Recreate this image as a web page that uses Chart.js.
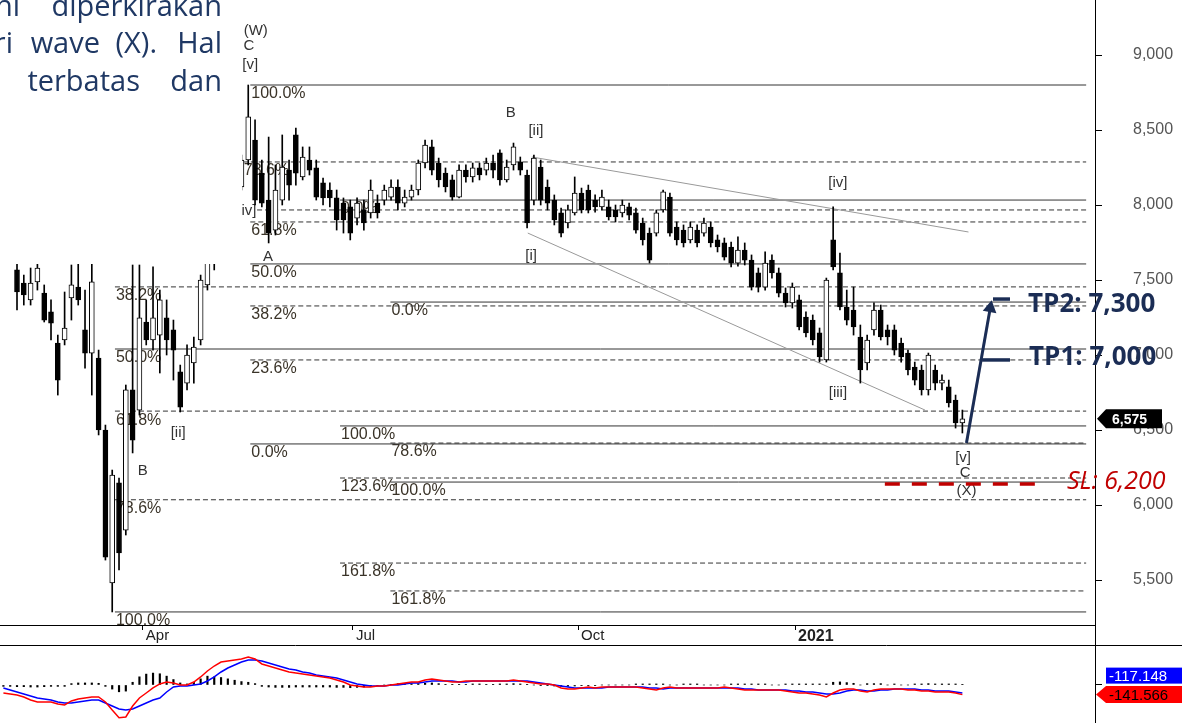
<!DOCTYPE html>
<html>
<head>
<meta charset="utf-8">
<script src="https://cdn.jsdelivr.net/npm/chart.js@4.4.1/dist/chart.umd.min.js"></script>
<style>
    body { margin: 0; background: #fff; }
    #wrap { position: relative; width: 1182px; height: 723px; overflow: hidden; background: #fff; }
    #priceChart { position: absolute; left: 0; top: 0; }
    #macdChart { position: absolute; left: 0; top: 645px; }
</style>
</head>
<body>
<div id="wrap">
    <canvas id="priceChart" width="1182" height="645"></canvas>
    <canvas id="macdChart" width="1182" height="78"></canvas>
</div>
<script>
// velas (una cada ~2 sesiones)
const opens = [7567,7480,7367,7487,7413,7287,7080,7100,7380,7453,
    7167,7013,6980,6500,5480,6147,5833,6767,6633,7220,
    7100,7133,7247,7167,6887,6813,6947,7100,7467,7620,
    7767,7933,8033,8120,8300,8433,8213,8033,7833,8033,
    8233,8467,8187,8300,8247,8147,8100,8047,8013,7987,
    7913,7967,7947,8013,8033,8053,8120,8013,8053,8100,
    8280,8387,8280,8213,8167,8053,8233,8187,8247,8233,
    8280,8347,8167,8267,8287,8200,8033,8253,8120,8033,
    7947,7880,7947,8080,8100,8033,7987,7987,7967,7947,
    7987,7947,7880,7813,7813,7967,8053,7853,7833,7767,
    7833,7813,7853,7767,7747,7720,7613,7700,7633,7547,
    7453,7633,7547,7413,7347,7367,7253,7233,7147,6967,
    7767,7547,7320,7300,7120,6947,7167,7300,7167,7167,
    7080,7013,6920,6900,6767,6900,6813,6787,6700,6547];
const highs = [7667,7533,7580,7700,7467,7367,7133,7420,7600,7620,
    7433,7620,7033,6533,6233,6180,6800,7600,7600,7367,
    7587,7433,7367,7233,6933,7067,7120,7533,7700,7867,
    8000,8100,8200,8333,8800,8567,8300,8453,8267,8467,
    8300,8513,8387,8387,8300,8180,8147,8100,8047,8033,
    8047,8033,8167,8067,8133,8167,8167,8100,8133,8300,
    8433,8433,8313,8247,8200,8267,8267,8280,8280,8313,
    8333,8367,8300,8413,8320,8233,8333,8300,8167,8067,
    7980,8000,8187,8113,8133,8067,8100,8033,8000,8033,
    8013,7980,7913,7847,7967,8100,8080,7887,7867,7887,
    7867,7913,7887,7800,7780,7753,7787,7747,7667,7580,
    7687,7667,7580,7447,7480,7400,7287,7267,7180,7513,
    7987,7680,7433,7453,7200,7133,7347,7333,7200,7200,
    7113,7033,6953,6933,7013,6933,6867,6833,6733,6633];
const lows = [7300,7333,7333,7433,7220,7100,6733,7067,7233,7333,
    6913,6733,6467,5633,5287,5567,5800,6347,6600,7067,
    7033,6880,7000,6833,6620,6767,6813,7067,7433,7567,
    7700,7867,7967,8100,8267,8000,7987,7747,7800,8000,
    8033,8133,8167,8200,8033,8000,7987,7833,7813,7767,
    7867,7833,7913,7913,8000,8033,7967,7987,8033,8067,
    8247,8200,8120,8087,8033,8047,8153,8153,8167,8200,
    8180,8133,8153,8233,8200,7847,8000,8000,7967,7867,
    7787,7847,7933,7947,7947,7953,7967,7900,7887,7920,
    7900,7813,7733,7613,7793,7953,7793,7733,7720,7747,
    7720,7793,7720,7687,7633,7587,7593,7600,7433,7420,
    7433,7513,7387,7320,7313,7167,7120,7067,6953,6953,
    7567,7300,7200,7133,6813,6900,7133,7100,7067,7000,
    6953,6867,6800,6733,6733,6767,6767,6653,6513,6480];
const closes = [7420,7400,7480,7580,7233,7213,6833,7180,7467,7367,
    7013,7487,6500,5653,6200,5680,6767,6433,7247,7100,
    7247,7367,7100,7033,6653,7000,7053,7500,7620,7767,
    7933,8033,8133,8300,8587,8033,8013,7813,8100,8253,
    8133,8213,8320,8233,8053,8047,8047,7900,7900,7813,
    8013,7880,8100,7947,8100,8120,8013,8053,8100,8280,
    8400,8233,8167,8120,8053,8233,8187,8247,8200,8280,
    8233,8167,8253,8387,8233,7880,8313,8033,8013,7900,
    7813,7967,8080,7967,7967,7987,8053,7920,7920,8000,
    7933,7833,7767,7633,7947,8087,7813,7767,7747,7853,
    7747,7880,7747,7720,7653,7613,7700,7633,7453,7453,
    7613,7547,7413,7347,7453,7187,7147,7100,6987,7500,
    7587,7320,7233,7187,6900,7100,7300,7120,7120,7033,
    6987,6900,6833,6767,7000,6813,6833,6680,6547,6575];

// eje de tiempo y de precio
const monthTicks = [18.5, 49.4, 82.5, 114.4];
const monthLabels = ['Apr', 'Jul', 'Oct', '2021'];
const priceTicks = [5500, 6000, 6500, 7000, 7500, 8000, 8500, 9000];

// MACD (empieza dos velas antes)
const macdStart = -2;
const macdRed = [-118,-132,
    -147,-176,-221,-250,-250,-250,-279,-294,-235,-206,
    -191,-176,-176,-250,-368,-480,-470,-309,-191,-118,
    -44,15,44,29,0,0,44,118,206,279,
    338,353,368,382,412,382,309,279,250,221,
    191,176,162,147,132,118,103,74,44,0,
    -15,-29,-29,-15,-15,0,15,29,44,44,
    74,88,74,59,44,44,59,59,59,59,
    59,59,59,74,59,44,29,15,15,0,
    -44,-59,-59,-44,-29,-44,-29,-29,-29,-29,
    -29,-29,-44,-59,-74,-44,-29,-44,-44,-44,
    -44,-44,-44,-44,-29,-44,-59,-74,-74,-74,
    -74,-74,-74,-88,-103,-118,-118,-132,-147,-176,
    -118,-74,-59,-59,-88,-103,-74,-59,-59,-59,
    -59,-74,-74,-88,-88,-103,-103,-103,-118,-141.566];
const macdBlue = [-44,-74,
    -103,-132,-162,-191,-206,-221,-250,-265,-265,-250,
    -235,-221,-221,-265,-309,-353,-368,-353,-309,-265,
    -221,-191,-103,-29,-15,-15,0,15,59,118,
    191,250,294,338,368,368,353,323,294,265,
    235,221,191,176,147,132,118,103,74,44,
    15,0,-15,-15,-15,0,0,15,29,29,
    44,59,59,59,59,44,44,59,59,59,
    59,59,59,59,59,59,44,29,15,0,
    -15,-29,-44,-44,-44,-44,-44,-29,-29,-29,
    -29,-29,-29,-44,-44,-59,-44,-44,-44,-44,
    -44,-44,-44,-44,-44,-44,-44,-59,-59,-74,
    -74,-74,-74,-74,-88,-88,-103,-103,-118,-132,
    -132,-118,-88,-74,-74,-88,-88,-74,-74,-59,
    -59,-59,-59,-74,-74,-88,-88,-88,-103,-117.148];
const macdHist = [-20,-20,
    -25,-25,-30,-30,-25,-20,-20,-20,20,30,
    30,30,25,-20,-60,-100,-90,40,120,160,
    175,165,130,80,30,15,40,90,130,120,
    110,90,70,50,40,20,-20,-30,-35,-35,
    -35,-30,-30,-30,-30,-30,-30,-35,-35,-40,
    -35,-30,-20,-10,0,10,20,20,20,20,
    25,30,20,10,5,10,10,15,15,10,
    10,15,15,20,15,10,0,-10,-10,-15,
    -20,-20,-15,-10,-10,-5,0,0,0,0,
    0,15,15,15,15,15,0,0,15,15,
    15,0,0,0,0,15,15,15,15,15,
    15,0,0,15,15,15,15,15,15,15,
    40,45,35,25,0,20,20,20,0,15,
    0,0,15,15,20,15,15,15,15,10];

// niveles fibonacci
const fibValues = [7454, 7040, 6626, 6035, 5287,
    8800, 8287, 7887, 7607, 7327, 6967, 6407,
    8033, 6527, 6180, 5613,
    7353, 6413, 6153, 5427,
    7967];
const fibStarts = [14.4, 14.4, 14.4, 14.4, 14.4,
    34.3, 33.2, 34.3, 34.3, 34.3, 34.3, 34.3,
    47.5, 47.5, 47.5, 47.5,
    54.9, 54.9, 54.9, 54.9,
    35.3];
const fibDashed = [1, 0, 1, 1, 0,
    0, 1, 1, 0, 1, 1, 0,
    0, 0, 1, 1,
    0, 1, 0, 1,
    1];
const fibTexts = ['38.2%', '50.0%', '61.8%', '78.6%', '100.0%',
    '100.0%', '78.6%', '61.8%', '50.0%', '38.2%', '23.6%', '0.0%',
    '0.0%', '100.0%', '123.6%', '161.8%',
    '0.0%', '78.6%', '100.0%', '161.8%',
    ''];
const fibEnd = 157.2;

// etiquetas de ondas
const waveTexts = ['(W)', 'C', '[v]', '[iv]', 'A', 'B', '[ii]', '[i]', '[iv]', '[iii]', '[v]', 'C', '(X)', '[ii]', 'B'];
const waveX = [35.1, 34.1, 34.3, 33.8, 36.9, 72.6, 76.3, 75.6, 120.7, 120.7, 139.1, 139.4, 139.6, 23.7, 18.5];
const waveY = [9160, 9060, 8933, 7960, 7654, 8614, 8494, 7660, 8147, 6747, 6314, 6214, 6094, 6480, 6227];

// canal, flecha y objetivos
const channelUpper = [[75.7, 8320], [139.9, 7820]];
const channelLower = [[75.1, 7813], [133.5, 6633]];
const arrowPath = [[139.6, 6413], [143.1, 7313]];
const tpValues = [7373, 6967];
const tpStarts = [143.5, 141.9];
const tpEnd = 146;
const tpTexts = ['TP2: 7,300', 'TP1: 7,000'];
const slValue = 6140;
const slRange = [127.6, 150.4];
const slText = 'SL: 6,200';
const lastPrice = 6575;

// texto del recuadro superior izquierdo
const noteWords = ['ini', 'diperkirakan', 'ri', 'wave', '(X).', 'Hal', 'terbatas', 'dan'];
const noteRight = [20, 222, 13, 100, 157, 222, 140, 222];
const noteBase = [16, 16, 53, 53, 53, 53, 91, 91];

const FONT = 'Liberation Sans';
const navy = '#1b2d55';

const candleWicks = closes.map((c, i) => ({ x: i, y: [lows[i], highs[i]] }));
const candleBodies = closes.map((c, i) => ({ x: i, y: [opens[i], c] }));
const bodyColors = closes.map((c, i) => c >= opens[i] ? '#ffffff' : '#000000');

function hLine(v, x0, x1) {
    return [{ x: x0, y: v }, { x: x1, y: v }];
}

// quitar el relleno automatico de las escalas
function noPad(s) {
    s.paddingTop = 0;
    s.paddingBottom = 0;
    s.paddingLeft = 0;
    s.paddingRight = 0;
}

const fibSets = fibValues.map((v, k) => ({
    type: 'line',
    data: hLine(v, fibStarts[k], fibEnd),
    borderColor: '#333',
    borderWidth: 1,
    borderDash: fibDashed[k] ? [5, 3] : [],
    pointRadius: 0
}));

const tpSets = tpValues.map((v, k) => ({
    type: 'line',
    data: hLine(v, tpStarts[k], tpEnd),
    borderColor: navy,
    borderWidth: 3.5,
    pointRadius: 0
}));

// etiquetas, recuadro y textos sobre el grafico
const priceOverlay = {
    id: 'priceOverlay',
    beforeDatasetsDraw(chart) {
        const { ctx, chartArea, scales } = chart;
        ctx.save();
        ctx.beginPath();
        ctx.rect(chartArea.left, chartArea.top, chartArea.right - chartArea.left, chartArea.bottom - chartArea.top);
        ctx.clip();
        ctx.font = '16px "' + FONT + '"';
        ctx.fillStyle = '#3a3328';
        ctx.textBaseline = 'middle';
        ctx.textAlign = 'left';
        fibTexts.forEach((t, k) => {
            if (!t) return;
            ctx.fillText(t, scales.x.getPixelForValue(fibStarts[k]) + 1, scales.y.getPixelForValue(fibValues[k]) + 9);
        });
        ctx.font = '15px "' + FONT + '"';
        ctx.fillStyle = '#333';
        ctx.textAlign = 'center';
        waveTexts.forEach((t, k) => {
            ctx.fillText(t, scales.x.getPixelForValue(waveX[k]), scales.y.getPixelForValue(waveY[k]));
        });
        ctx.restore();
    },
    afterDraw(chart) {
        const { ctx, scales } = chart;
        ctx.save();
        // recuadro blanco del texto
        ctx.fillStyle = '#ffffff';
        ctx.fillRect(0, 0, 242, 264);
        ctx.font = '29px "Open Sans"';
        ctx.fillStyle = '#1f3864';
        ctx.textAlign = 'right';
        ctx.textBaseline = 'alphabetic';
        noteWords.forEach((w, k) => ctx.fillText(w, noteRight[k], noteBase[k]));

        // linea del eje en la banda de fechas
        ctx.strokeStyle = '#000';
        ctx.lineWidth = 1;
        ctx.beginPath();
        ctx.moveTo(1095.5, 625);
        ctx.lineTo(1095.5, 645);
        ctx.stroke();

        // etiqueta del ultimo precio
        const py = scales.y.getPixelForValue(lastPrice);
        ctx.fillStyle = '#000';
        ctx.beginPath();
        ctx.moveTo(1097, py);
        ctx.lineTo(1106, py - 9.5);
        ctx.lineTo(1162, py - 9.5);
        ctx.lineTo(1162, py + 9.5);
        ctx.lineTo(1106, py + 9.5);
        ctx.closePath();
        ctx.fill();
        ctx.fillStyle = '#fff';
        ctx.font = 'bold 14px "' + FONT + '"';
        ctx.textAlign = 'left';
        ctx.textBaseline = 'middle';
        ctx.fillText(lastPrice.toLocaleString('en-US'), 1112, py + 1);

        // objetivos y stop loss
        ctx.font = 'bold 26px "Open Sans"';
        ctx.fillStyle = navy;
        ctx.fillText(tpTexts[0], 1028, 305);
        ctx.fillText(tpTexts[1], 1029, 358);
        ctx.font = 'italic 25px "Open Sans"';
        ctx.fillStyle = '#c00000';
        ctx.fillText(slText, 1067, 482);
        ctx.restore();
    }
};

const priceCtx = document.getElementById('priceChart').getContext('2d');
new Chart(priceCtx, {
    type: 'bar',
    data: {
        datasets: [
            {
                type: 'line',
                data: arrowPath.map(p => ({ x: p[0], y: p[1] })),
                borderColor: navy,
                borderWidth: 3,
                pointRadius: [0, 8],
                pointStyle: 'triangle',
                pointRotation: 10,
                pointBackgroundColor: navy,
                pointBorderWidth: 0
            },
            ...tpSets,
            {
                type: 'line',
                data: hLine(slValue, slRange[0], slRange[1]),
                borderColor: '#c00000',
                borderWidth: 3.5,
                borderDash: [15, 12],
                pointRadius: 0
            },
            {
                data: candleBodies,
                backgroundColor: bodyColors,
                borderColor: '#000',
                borderWidth: 1,
                borderSkipped: false,
                barThickness: 5,
                grouped: false
            },
            {
                data: candleWicks,
                backgroundColor: '#000',
                barThickness: 1,
                grouped: false
            },
            {
                type: 'line',
                data: channelUpper.map(p => ({ x: p[0], y: p[1] })),
                borderColor: '#999',
                borderWidth: 1,
                pointRadius: 0
            },
            {
                type: 'line',
                data: channelLower.map(p => ({ x: p[0], y: p[1] })),
                borderColor: '#999',
                borderWidth: 1,
                pointRadius: 0
            },
            ...fibSets
        ]
    },
    options: {
        responsive: false,
        animation: false,
        layout: { padding: 0, autoPadding: false },
        plugins: {
            legend: { display: false },
            tooltip: { enabled: false }
        },
        scales: {
            x: {
                type: 'linear',
                min: -2.5,
                max: 158.5,
                offset: false,
                afterBuildTicks: s => { s.ticks = monthTicks.map(v => ({ value: v })); },
                afterFit: s => { s.height = 20; noPad(s); },
                ticks: {
                    callback: (v, i) => monthLabels[i],
                    align: 'start',
                    labelOffset: 3,
                    padding: -3,
                    maxRotation: 0,
                    autoSkip: false,
                    color: '#222',
                    font: c => ({ family: FONT, size: c.index === 3 ? 16 : 15, weight: c.index === 3 ? 'bold' : 'normal' })
                },
                grid: { drawOnChartArea: false, offset: false, tickLength: 5, color: '#000' },
                border: { color: '#000' }
            },
            y: {
                position: 'right',
                min: 5200,
                max: 9366.7,
                afterBuildTicks: s => { s.ticks = priceTicks.map(v => ({ value: v })); },
                afterFit: s => { s.width = 87; noPad(s); },
                ticks: {
                    callback: v => v.toLocaleString('en-US'),
                    color: '#555',
                    padding: 31,
                    font: { family: FONT, size: 16 }
                },
                grid: { drawOnChartArea: false, tickLength: 7, color: '#000' },
                border: { color: '#000' }
            }
        }
    },
    plugins: [priceOverlay]
});

// panel MACD
const macdOverlay = {
    id: 'macdOverlay',
    afterDraw(chart) {
        const { ctx, scales } = chart;
        ctx.save();
        ctx.strokeStyle = '#000';
        ctx.lineWidth = 1;
        ctx.beginPath();
        ctx.moveTo(0, 0.5);
        ctx.lineTo(1182, 0.5);
        ctx.stroke();

        const redVal = macdRed[macdRed.length - 1];
        const blueVal = macdBlue[macdBlue.length - 1];
        const ry = scales.y.getPixelForValue(redVal);
        const by = Math.min(scales.y.getPixelForValue(blueVal), ry - 19);
        ctx.font = '15px "' + FONT + '"';
        ctx.textAlign = 'left';
        ctx.textBaseline = 'middle';

        ctx.fillStyle = '#0000ff';
        ctx.fillRect(1106, by - 8, 76, 16);
        ctx.fillStyle = '#fff';
        ctx.fillText(blueVal.toFixed(3), 1109, by + 1);

        ctx.fillStyle = '#ff0000';
        ctx.beginPath();
        ctx.moveTo(1096, ry);
        ctx.lineTo(1106, ry - 8.5);
        ctx.lineTo(1182, ry - 8.5);
        ctx.lineTo(1182, ry + 8.5);
        ctx.lineTo(1106, ry + 8.5);
        ctx.closePath();
        ctx.fill();
        ctx.fillStyle = '#000';
        ctx.fillText(redVal.toFixed(3), 1109, ry + 1);
        ctx.restore();
    }
};

const macdCtx = document.getElementById('macdChart').getContext('2d');
new Chart(macdCtx, {
    type: 'bar',
    data: {
        datasets: [
            {
                type: 'line',
                data: macdRed.map((v, i) => ({ x: macdStart + i, y: v })),
                borderColor: '#ff0000',
                borderWidth: 1.5,
                pointRadius: 0
            },
            {
                type: 'line',
                data: macdBlue.map((v, i) => ({ x: macdStart + i, y: v })),
                borderColor: '#0000ff',
                borderWidth: 1.5,
                pointRadius: 0
            },
            {
                data: macdHist.map((v, i) => ({ x: macdStart + i, y: v })),
                backgroundColor: '#000',
                barThickness: 1.5,
                grouped: false
            }
        ]
    },
    options: {
        responsive: false,
        animation: false,
        layout: { padding: 0, autoPadding: false },
        plugins: {
            legend: { display: false },
            tooltip: { enabled: false }
        },
        scales: {
            x: { type: 'linear', min: -2.5, max: 158.5, offset: false, display: false },
            y: {
                position: 'right',
                min: -559,
                max: 588,
                afterBuildTicks: s => { s.ticks = [{ value: 0 }]; },
                afterFit: s => { s.width = 87; noPad(s); },
                ticks: { callback: () => '', padding: 0 },
                grid: { drawOnChartArea: false, tickLength: 7, color: '#000' },
                border: { color: '#000' }
            }
        }
    },
    plugins: [macdOverlay]
});
</script>
</body>
</html>
